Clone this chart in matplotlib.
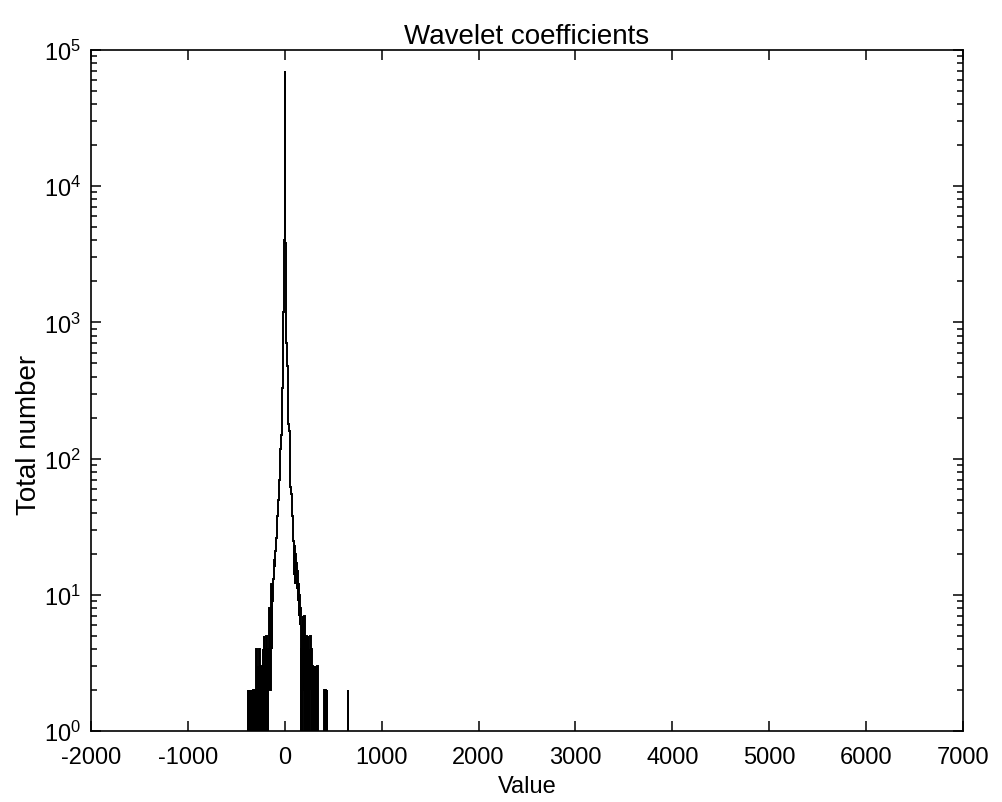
import numpy as np
import matplotlib
matplotlib.use("Agg")
import matplotlib.pyplot as plt
from matplotlib.ticker import LogLocator, NullFormatter

plt.rcParams['font.family'] = ['Liberation Sans', 'DejaVu Sans']
plt.rcParams['axes.unicode_minus'] = False

# histogram of wavelet coefficients, bins 5 units wide centred on multiples of 5
bin_width = 5
first_centre = -400
# counts for bins -400 ... -5
left_counts = [0, 0, 0, 0, 2, 0, 0, 0, 2, 0, 0, 0,
               2, 0, 1, 2, 0, 2, 1, 0, 2, 0,
               4, 0, 2, 3, 0, 2, 4, 1, 2, 0, 3, 2, 0, 4, 2,
               5, 0, 3, 4, 1, 5, 2, 3, 0, 4,
               2, 8, 3, 6, 2, 7, 12, 4, 9, 11,
               13, 14, 18, 16, 21, 24, 26, 30, 38, 43,
               50, 56, 70, 105, 118, 125, 150, 220, 330, 480,
               1200, 2500, 4000]
centre_count = [70000]
# counts for bins 5 ... 670
right_counts = [3800, 2200, 1100, 700, 520, 480, 420, 180, 170, 160,
                120, 62, 60, 55, 45, 38, 30, 25, 14, 23,
                12, 20, 13, 17, 11, 15, 9, 12, 7, 10,
                6, 8, 1, 7, 4, 6, 0, 7, 2, 5,
                7, 0, 4, 2, 5, 0, 3, 5, 1, 4,
                0, 3, 5, 2, 4, 0, 3, 2, 0, 3,
                1, 2, 0, 3, 2, 0, 2, 3, 0, 0] + [0] * 11 + \
               [2, 0, 2, 1, 0, 2] + [0] * 42 + [2, 0, 0, 0, 0]

counts = np.array(left_counts + centre_count + right_counts, dtype=float)
edges = first_centre - bin_width / 2 + bin_width * np.arange(len(counts) + 1)

x_ticks = [-2000, -1000, 0, 1000, 2000, 3000, 4000, 5000, 6000, 7000]

fig = plt.figure(figsize=(10.02, 8.03), dpi=100)
ax = fig.add_axes([91 / 1002, 71 / 803, 872 / 1002, 681 / 803])

# empty bins drop below the axis floor
shown = np.where(counts > 0, counts, 1e-3)
ax.stairs(shown, edges, color='black', linewidth=1.4, baseline=None)

ax.set_yscale('log')
ax.set_xlim(-2000, 7000)
ax.set_ylim(1, 1e5)
ax.set_xticks(x_ticks)
ax.set_xticklabels([str(t) for t in x_ticks])
ax.yaxis.set_major_locator(LogLocator(base=10, numticks=10))
ax.yaxis.set_minor_locator(LogLocator(base=10, subs=np.arange(2, 10), numticks=20))
ax.yaxis.set_minor_formatter(NullFormatter())

ax.tick_params(which='both', direction='in', top=True, right=True, labelsize=17, width=1.1)
ax.tick_params(which='major', length=7)
ax.tick_params(which='minor', length=4)
ax.tick_params(axis='x', which='major', pad=11)
ax.tick_params(axis='y', which='major', pad=7)
for sp in ax.spines.values():
    sp.set_linewidth(1.2)

ax.set_title('Wavelet coefficients', fontsize=20, pad=5)
ax.set_xlabel('Value', fontsize=17, labelpad=5)
ax.set_ylabel('Total number', fontsize=20)
ax.yaxis.set_label_coords(-0.056, 0.436)

fig.savefig('out.png', dpi=100)
